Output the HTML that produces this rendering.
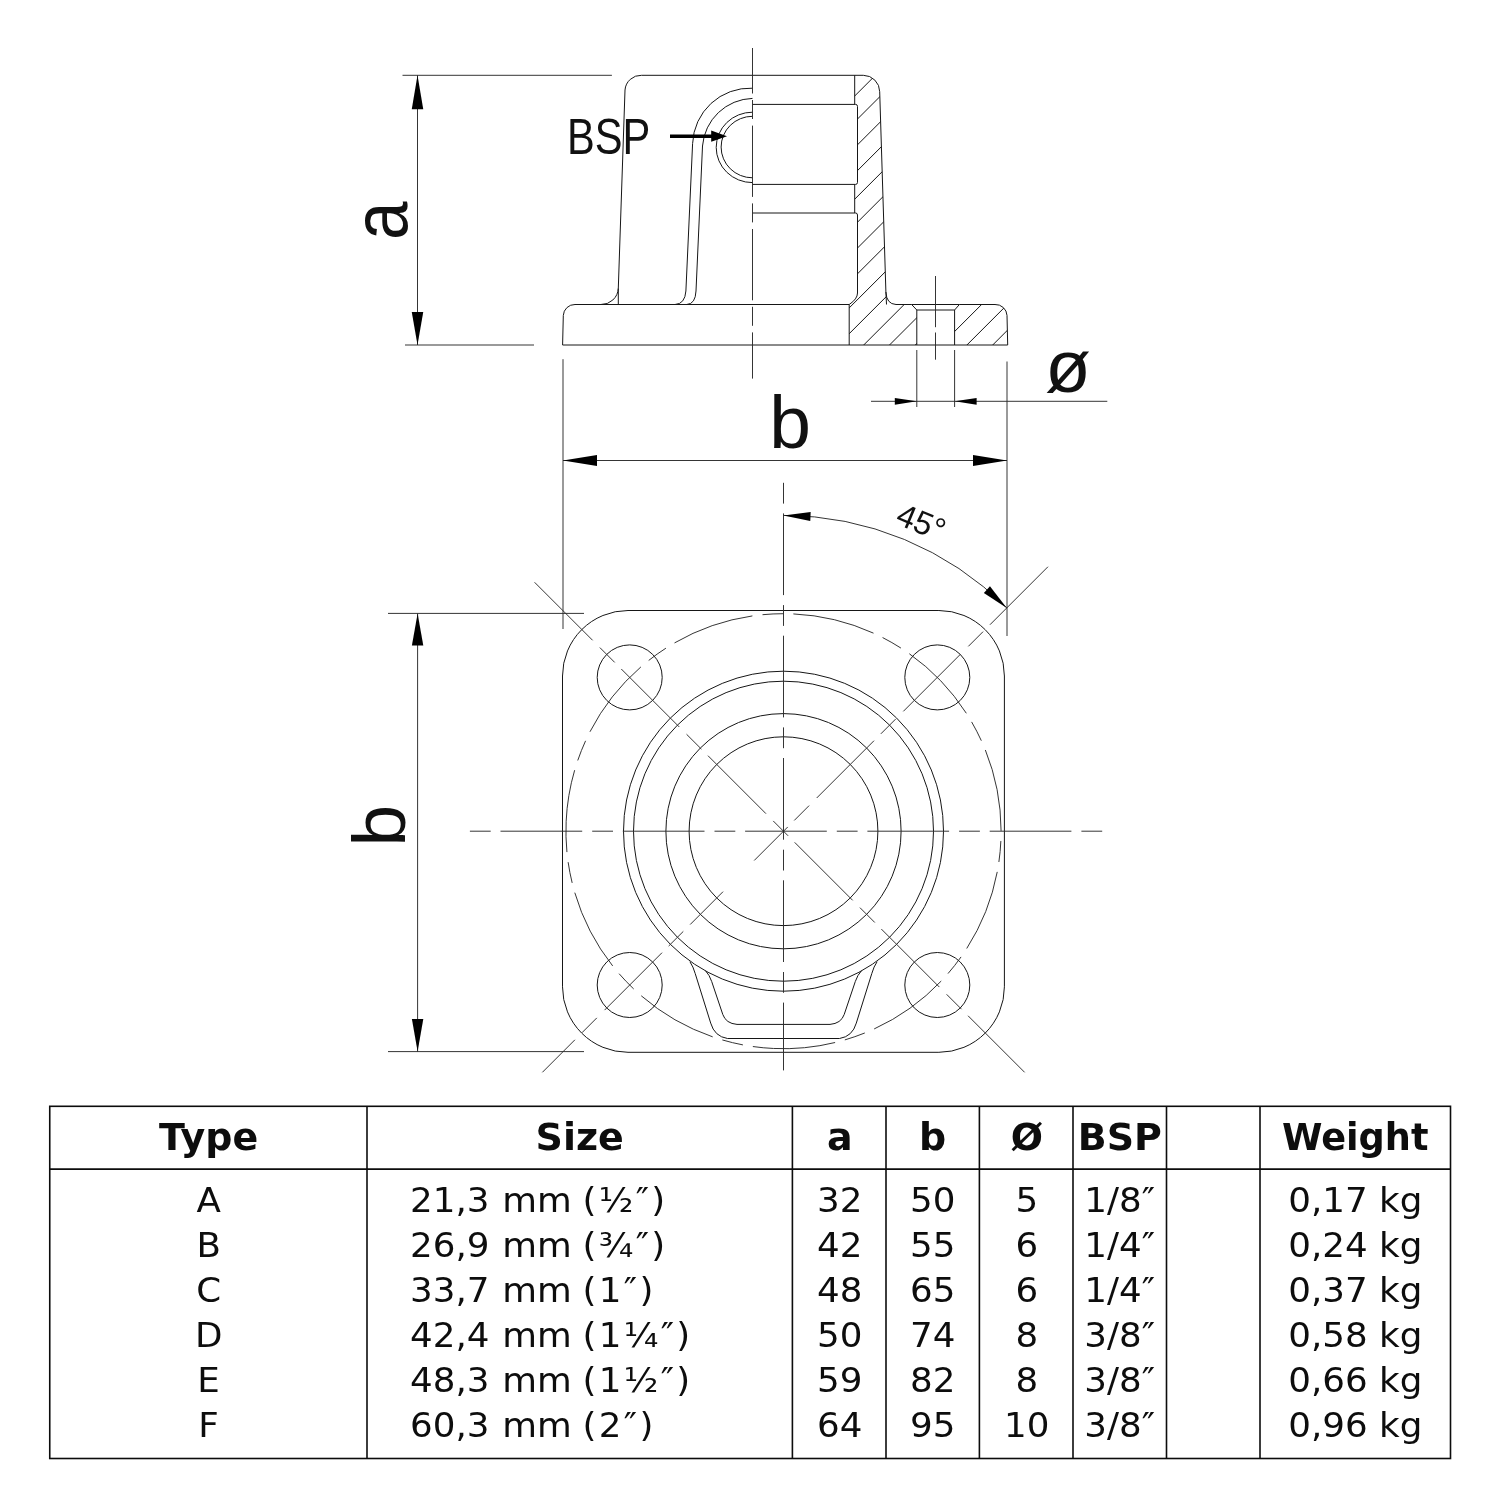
<!DOCTYPE html>
<html lang="en">
<head>
<meta charset="utf-8">
<title>Flange fitting – dimensions</title>
<style>
html,body{margin:0;padding:0;background:#fff;}
body{width:1501px;height:1501px;position:relative;overflow:hidden;font-family:"DejaVu Sans","Liberation Sans",sans-serif;}
svg{position:absolute;left:0;top:0;will-change:transform;}
.o{fill:none;stroke:#161616;stroke-width:1;}
.t{fill:none;stroke:#2a2a2a;stroke-width:0.95;}
.g *{fill:none;stroke:#0c0c0c;stroke-width:1.6;}
.a{fill:#000;stroke:none;}
text{fill:#111;font-family:"Liberation Sans",sans-serif;}
.big{font-size:75px;}
.bsp{font-size:50px;}
.ang{font-size:32.5px;}
table.spec{will-change:transform;position:absolute;left:49.75px;top:1106.3px;border-collapse:collapse;table-layout:fixed;width:1400.75px;
  font-family:"DejaVu Sans","Liberation Sans",sans-serif;color:#0d0d0d;}
table.spec th,table.spec td{border:0;padding:0;text-align:center;white-space:nowrap;overflow:visible;}
table.spec th{height:62.8px;font-size:36.5px;font-weight:bold;line-height:62.8px;}
table.spec td{height:289.4px;font-size:34.3px;line-height:44.95px;vertical-align:top;padding-top:9.5px;box-sizing:border-box;}
.s{transform:scaleX(1.04);transform-origin:50% 50%;}
th .s{position:relative;top:0.5px;}
th .s.w{transform:scaleX(1.005);}
table.spec td.size{text-align:left;padding-left:42.9px;}
td.size .s{transform-origin:0 50%;}
td.size span{display:inline-block;text-align:left;}
td.size .n{width:88.8px;}
td.size .u{width:77.2px;}
td.size .i{letter-spacing:2.2px;}
</style>
</head>
<body>
<svg width="1501" height="1501" viewBox="0 0 1501 1501">
<g id="elevation">
<path class="o" d="M600.8,304.5 A17,17 0 0 0 618.3,288.3 L625,90 A16,16 0 0 1 641.5,75.3 L863.3,75.3 A16.5,16.5 0 0 1 879.7,91.7 L885.9,292 Q886.4,304 896,304.5" />
<line class="o" x1="618.3" y1="288.3" x2="618.3" y2="304.5" />
<line class="o" x1="885.9" y1="292" x2="886.5" y2="304.5" />
<path class="o" d="M849.2,304.5 L575,304.5 A11.5,11.5 0 0 0 563.3,315.5 L562.6,345 L1007.7,345 L1007,315.4 A11.5,11.5 0 0 0 995,304.5 L959.4,304.5 L954.6,310 L916.8,310 L911.6,304.5 L896,304.5" />
<line class="o" x1="849.2" y1="304.5" x2="849.2" y2="345" />
<line class="o" x1="911.6" y1="304.5" x2="959.4" y2="304.5" />
<line class="o" x1="916.8" y1="310" x2="916.8" y2="345" />
<line class="o" x1="954.6" y1="310" x2="954.6" y2="345" />
<path class="o" d="M854.7,75.3 L854.7,104.4 M752.5,104.4 L855.6,104.4 Q857.5,104.4 857.5,106.4 L857.5,182.4 Q857.5,184.4 855.6,184.4 L752.5,184.4 M854.7,184.4 L854.7,213 M752.5,213 L855.6,213 Q857.5,213 857.5,215 L857.5,293 Q857.5,299 849.2,304.5" />
<path class="o" d="M752.5,88.2 A57.5,57.5 0 0 0 692.6,143.5 L685.9,291 Q685,304 675,304.5" />
<path class="o" d="M752.5,98.4 A51.6,51.6 0 0 0 702.5,146 L696,291 Q695.5,304 686.7,304.5" />
<path class="o" d="M752.5,112.2 A36.3,35.2 0 0 0 752.5,182.6" />
<path class="o" d="M752.5,116.3 A31.4,30.75 0 0 0 752.5,177.8" />
<clipPath id="sec"><path d="M854.7,75.3 L863.3,75.3 A16.5,16.5 0 0 1 879.7,91.7 L885.9,292 Q886.4,304 896,304.5 L911.6,304.5 L916.8,310 L916.8,345 L849.2,345 L849.2,304.5 Q857.5,299 857.5,293 L857.5,213 L854.7,213 L854.7,184.4 L857.5,184.4 L857.5,104.4 L854.7,104.4 Z M954.6,345 L954.6,310 L959.4,304.5 L995,304.5 A11.5,11.5 0 0 1 1007,315.4 L1007.7,345 Z"/></clipPath>
<g clip-path="url(#sec)">
<line class="o" x1="1013.5" y1="350" x2="1318.5" y2="45" />
<line class="o" x1="987.7" y1="350" x2="1292.7" y2="45" />
<line class="o" x1="961.9" y1="350" x2="1266.9" y2="45" />
<line class="o" x1="936.1" y1="350" x2="1241.1" y2="45" />
<line class="o" x1="910.3" y1="350" x2="1215.3" y2="45" />
<line class="o" x1="884.5" y1="350" x2="1189.5" y2="45" />
<line class="o" x1="858.7" y1="350" x2="1163.7" y2="45" />
<line class="o" x1="832.9" y1="350" x2="1137.9" y2="45" />
<line class="o" x1="807.1" y1="350" x2="1112.1" y2="45" />
<line class="o" x1="781.3" y1="350" x2="1086.3" y2="45" />
<line class="o" x1="755.5" y1="350" x2="1060.5" y2="45" />
<line class="o" x1="729.7" y1="350" x2="1034.7" y2="45" />
<line class="o" x1="703.9" y1="350" x2="1008.9" y2="45" />
<line class="o" x1="678.1" y1="350" x2="983.1" y2="45" />
<line class="o" x1="652.3" y1="350" x2="957.3" y2="45" />
<line class="o" x1="626.5" y1="350" x2="931.5" y2="45" />
<line class="o" x1="600.7" y1="350" x2="905.7" y2="45" />
<line class="o" x1="574.9" y1="350" x2="879.9" y2="45" />
</g>
<line class="t" x1="752.5" y1="48" x2="752.5" y2="378.6" stroke-dasharray="71.3 6.5 19 6.6" stroke-dashoffset="25.8"/>
<line class="t" x1="935.5" y1="276" x2="935.5" y2="359.7" stroke-dasharray="51.2 5.3 40 5"/>
<line class="t" x1="402.5" y1="75.3" x2="611.9" y2="75.3" />
<line class="t" x1="405" y1="345" x2="534" y2="345" />
<line class="t" x1="417.5" y1="75.3" x2="417.5" y2="345" />
<polygon class="a" points="417.5,75.3 423.25,109.3 411.75,109.3"/>
<polygon class="a" points="417.5,345 411.75,312 423.25,312"/>
<text class="big" transform="translate(406.9,240) rotate(-90) scale(0.92,1.04)">a</text>
<line class="t" x1="563" y1="359.2" x2="563" y2="629" />
<line class="t" x1="1007" y1="361.5" x2="1007" y2="636" />
<line class="t" x1="563" y1="460.5" x2="1007" y2="460.5" />
<polygon class="a" points="563,460.5 597,455 597,466"/>
<polygon class="a" points="1007,460.5 973,466 973,455"/>
<text class="big" x="769.3" y="448.3">b</text>
<line class="t" x1="916.8" y1="350" x2="916.8" y2="407" />
<line class="t" x1="954.6" y1="350" x2="954.6" y2="407" />
<line class="t" x1="871" y1="401.3" x2="1107.3" y2="401.3" />
<polygon class="a" points="916.8,401.3 894.8,404.7 894.8,397.9"/>
<polygon class="a" points="954.6,401.3 976.6,397.9 976.6,404.7"/>
<text class="big" x="1045" y="391.8">ø</text>
<text class="bsp" transform="translate(567.1,154.2) scale(0.832,1.01)">BSP</text>
<line x1="670" y1="136.2" x2="713" y2="136.2" stroke="#000" stroke-width="3.4"/>
<polygon class="a" points="727,136.2 711.2,141.8 711.2,130.6"/>
</g>
<g id="plan">
<path class="o" d="M628,610.5 L938.9,610.5 A65.5,65.5 0 0 1 1004.4,676 L1004.4,986.8 A65.5,65.5 0 0 1 938.9,1052.3 L628,1052.3 A65.5,65.5 0 0 1 562.5,986.8 L562.5,676 A65.5,65.5 0 0 1 628,610.5 Z" />
<circle class="o" cx="783.5" cy="831.2" r="160"/>
<circle class="o" cx="783.5" cy="831.2" r="150"/>
<circle class="o" cx="783.5" cy="831.2" r="117.6"/>
<circle class="o" cx="783.5" cy="831.2" r="94.4"/>
<circle class="o" cx="629.7" cy="677.4" r="32.5"/>
<circle class="o" cx="629.7" cy="985" r="32.5"/>
<circle class="o" cx="937.3" cy="677.4" r="32.5"/>
<circle class="o" cx="937.3" cy="985" r="32.5"/>
<path class="o" d="M689.9,961.7 Q693.2,966.5 695.2,973.5 L710.7,1023.1 Q714.5,1036.5 727.5,1038.5 L839.5,1038.5 Q852.5,1036.5 856.3,1023.1 L871.8,973.5 Q873.8,966.5 877.1,961.7" />
<path class="o" d="M705.5,970.7 Q709.5,975 711.7,981.5 L722.8,1014.5 Q726,1023.5 737,1024.4 L830,1024.4 Q841,1023.5 844.2,1014.5 L855.3,981.5 Q857.5,975 861.5,970.7" />
<path class="t" d="M793.37,613.92 A217.5,217.5 0 1 1 773.63,1048.48 A217.5,217.5 0 1 1 793.37,613.92" stroke-dasharray="82.87 10.15 21.12 10.1"/>
<line class="t" x1="469.9" y1="831.2" x2="1102.4" y2="831.2" stroke-dasharray="81.7 10 20.8 9.8" stroke-dashoffset="91.7"/>
<line class="t" x1="783.5" y1="482.8" x2="783.5" y2="1070.4" stroke-dasharray="81.7 10 20.8 9.8" stroke-dashoffset="91.7"/>
<line class="t" x1="534.6" y1="582.3" x2="1024.62" y2="1072.32" stroke-dasharray="82 10.3 21 9.3"/>
<path class="t" d="M989.98,624.72 L1047.96,566.74 M968.34,646.36 L983.05,631.65 M903.35,711.35 L960.56,654.14 M880.87,733.83 L895.58,719.12 M816.73,797.97 L874.01,740.69 M794.25,820.45 L809.1,805.6 M754.23,860.47 L787.74,826.96 M690.16,924.54 L723.04,891.66 M668.67,946.03 L683.3,931.4 M604.6,1010.1 L662.02,952.68 M581.97,1032.73 L596.82,1017.88 M542.38,1072.32 L574.9,1039.8" />
<line class="t" x1="388" y1="613.4" x2="584" y2="613.4" />
<line class="t" x1="388" y1="1051.6" x2="584" y2="1051.6" />
<line class="t" x1="417.6" y1="613.4" x2="417.6" y2="1051.6" />
<polygon class="a" points="417.6,613.4 423.3,645.4 411.9,645.4"/>
<polygon class="a" points="417.6,1051.6 411.9,1019.1 423.3,1019.1"/>
<text class="big" transform="translate(405,846.5) rotate(-90)">b</text>
<path class="t" d="M783.5,515.4 A315.8,315.8 0 0 1 1006.8,607.9" />
<polygon class="a" points="783.5,515.4 810.67,512.06 810.28,521.05"/>
<polygon class="a" points="1006.8,607.9 983.87,592.95 989.96,586.32"/>
<text class="ang" text-anchor="middle" transform="translate(917,532.6) rotate(22.5)">45°</text>
</g>
<g id="grid" class="g">
<rect x="49.75" y="1106.3" width="1400.75" height="352.2"/>
<line  x1="49.75" y1="1169.1" x2="1450.5" y2="1169.1" />
<line  x1="367" y1="1106.3" x2="367" y2="1458.5" />
<line  x1="792.4" y1="1106.3" x2="792.4" y2="1458.5" />
<line  x1="886" y1="1106.3" x2="886" y2="1458.5" />
<line  x1="979.4" y1="1106.3" x2="979.4" y2="1458.5" />
<line  x1="1073" y1="1106.3" x2="1073" y2="1458.5" />
<line  x1="1166.5" y1="1106.3" x2="1166.5" y2="1458.5" />
<line  x1="1260" y1="1106.3" x2="1260" y2="1458.5" />
</g>
</svg>
<table class="spec">
<colgroup><col style="width:317.25px"><col style="width:425.4px"><col style="width:93.6px"><col style="width:93.4px"><col style="width:93.6px"><col style="width:93.5px"><col style="width:93.5px"><col style="width:190.5px"></colgroup>
<thead><tr><th><div class="s">Type</div></th><th><div class="s">Size</div></th><th><div class="s">a</div></th><th><div class="s">b</div></th><th><div class="s">Ø</div></th><th><div class="s">BSP</div></th><th></th><th><div class="s w">Weight</div></th></tr></thead>
<tbody><tr>
<td><div class="s">A<br>B<br>C<br>D<br>E<br>F</div></td>
<td class="size"><div class="s"><span class="n">21,3</span><span class="u">mm</span><span class="i">(½″)</span><br><span class="n">26,9</span><span class="u">mm</span><span class="i">(¾″)</span><br><span class="n">33,7</span><span class="u">mm</span><span class="i">(1″)</span><br><span class="n">42,4</span><span class="u">mm</span><span class="i">(1¼″)</span><br><span class="n">48,3</span><span class="u">mm</span><span class="i">(1½″)</span><br><span class="n">60,3</span><span class="u">mm</span><span class="i">(2″)</span></div></td>
<td><div class="s">32<br>42<br>48<br>50<br>59<br>64</div></td>
<td><div class="s">50<br>55<br>65<br>74<br>82<br>95</div></td>
<td><div class="s">5<br>6<br>6<br>8<br>8<br>10</div></td>
<td><div class="s">1/8″<br>1/4″<br>1/4″<br>3/8″<br>3/8″<br>3/8″</div></td>
<td></td>
<td><div class="s">0,17 kg<br>0,24 kg<br>0,37 kg<br>0,58 kg<br>0,66 kg<br>0,96 kg</div></td>
</tr></tbody>
</table>
</body>
</html>
